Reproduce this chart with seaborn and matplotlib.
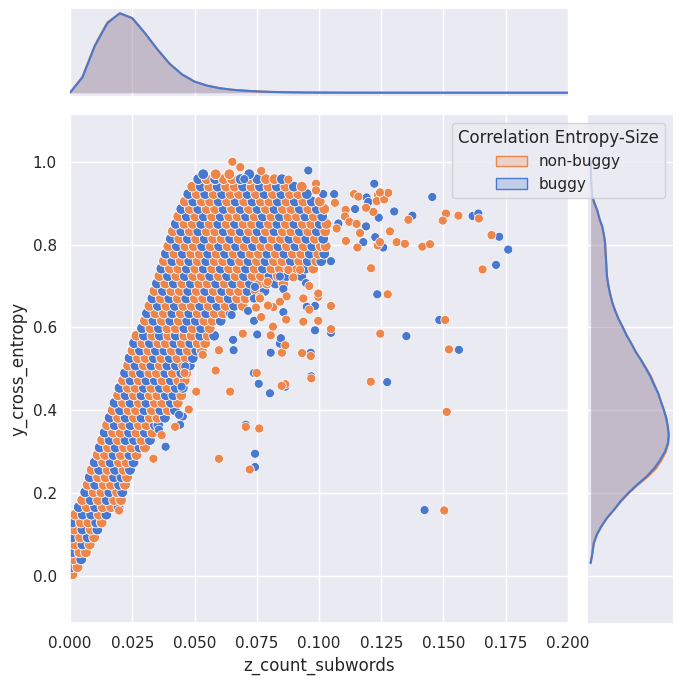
import matplotlib
matplotlib.use("Agg")
import matplotlib.pyplot as plt
from matplotlib.patches import Patch
import numpy as np
import pandas as pd
import seaborn as sns

# ---------------- data ----------------
# dense band, one row of points per y level; hue codes: b = buggy, n = non-buggy
band_y = [0.004, 0.021, 0.040, 0.057, 0.076, 0.093, 0.112, 0.129, 0.148, 0.166,
          0.183, 0.202, 0.220, 0.238, 0.256, 0.274, 0.292, 0.310, 0.328, 0.346,
          0.364, 0.382, 0.400, 0.418, 0.436, 0.454, 0.472, 0.490, 0.508, 0.526,
          0.544, 0.562, 0.580,
          0.598, 0.616, 0.634, 0.652, 0.670, 0.688, 0.706, 0.724, 0.742, 0.760,
          0.778, 0.796, 0.814, 0.832, 0.850, 0.868, 0.886, 0.904, 0.922, 0.940,
          0.958, 0.970]

band_x = [
    [0.0010],
    [0.0007, 0.0030],
    [0.0013, 0.0045],
    [0.0007, 0.0038, 0.0064],
    [0.0019, 0.0050, 0.0079],
    [0.0008, 0.0041, 0.0071, 0.0097],
    [0.0017, 0.0050, 0.0083, 0.0110],
    [0.0009, 0.0043, 0.0074, 0.0105, 0.0127],
    [0.0021, 0.0051, 0.0085, 0.0116, 0.0146],
    [0.0035, 0.0068, 0.0101, 0.0131, 0.0165, 0.0195],
    [0.0049, 0.0083, 0.0113, 0.0147, 0.0177, 0.0205],
    [0.0061, 0.0095, 0.0126, 0.0158, 0.0189, 0.0210],
    [0.0071, 0.0101, 0.0135, 0.0165, 0.0197, 0.0221],
    [0.0079, 0.0113, 0.0143, 0.0177, 0.0207, 0.0229],
    [0.0087, 0.0117, 0.0151, 0.0181, 0.0215, 0.0241],
    [0.0099, 0.0133, 0.0163, 0.0197, 0.0227, 0.0255],
    [0.0111, 0.0141, 0.0175, 0.0205, 0.0239, 0.0267],
    [0.0119, 0.0153, 0.0183, 0.0217, 0.0247, 0.0279, 0.0301],
    [0.0129, 0.0159, 0.0193, 0.0223, 0.0257, 0.0287, 0.0321],
    [0.0139, 0.0173, 0.0203, 0.0237, 0.0267, 0.0301, 0.0331],
    [0.0149, 0.0179, 0.0213, 0.0243, 0.0277, 0.0307, 0.0341, 0.0355],
    [0.0159, 0.0193, 0.0223, 0.0257, 0.0287, 0.0321, 0.0351, 0.0381],
    [0.0171, 0.0201, 0.0235, 0.0265, 0.0299, 0.0329, 0.0363, 0.0393, 0.0421],
    [0.0179, 0.0213, 0.0243, 0.0277, 0.0307, 0.0341, 0.0371, 0.0405, 0.0433],
    [0.0193, 0.0223, 0.0257, 0.0287, 0.0321, 0.0351, 0.0385, 0.0415, 0.0447],
    [0.0199, 0.0233, 0.0263, 0.0297, 0.0327, 0.0361, 0.0391, 0.0425, 0.0453],
    [0.0213, 0.0243, 0.0277, 0.0307, 0.0341, 0.0371, 0.0405, 0.0435, 0.0461],
    [0.0221, 0.0255, 0.0285, 0.0319, 0.0349, 0.0383, 0.0413, 0.0447, 0.0467],
    [0.0233, 0.0263, 0.0297, 0.0327, 0.0361, 0.0391, 0.0425, 0.0455, 0.0481],
    [0.0239, 0.0273, 0.0303, 0.0337, 0.0367, 0.0401, 0.0431, 0.0465, 0.0493],
    [0.0251, 0.0281, 0.0315, 0.0345, 0.0379, 0.0409, 0.0443, 0.0473, 0.0507, 0.0529],
    [0.0257, 0.0291, 0.0321, 0.0355, 0.0385, 0.0419, 0.0449, 0.0483, 0.0513, 0.0543],
    [0.0267, 0.0297, 0.0331, 0.0361, 0.0395, 0.0425, 0.0459, 0.0489, 0.0523, 0.0553, 0.0579],
    [0.0289, 0.0323, 0.0357, 0.0391, 0.0425, 0.0459, 0.0493, 0.0527, 0.0561],
    [0.0301, 0.0335, 0.0369, 0.0403, 0.0437, 0.0471, 0.0505, 0.0539, 0.0573, 0.0605],
    [0.0309, 0.0343, 0.0377, 0.0411, 0.0445, 0.0479, 0.0513, 0.0547, 0.0581, 0.0615, 0.0645],
    [0.0319, 0.0353, 0.0387, 0.0421, 0.0455, 0.0489, 0.0523, 0.0557, 0.0591, 0.0625, 0.0659,
     0.0693],
    [0.0331, 0.0365, 0.0399, 0.0433, 0.0467, 0.0501, 0.0535, 0.0569, 0.0603, 0.0637, 0.0671,
     0.0705, 0.0739],
    [0.0339, 0.0373, 0.0407, 0.0441, 0.0475, 0.0509, 0.0543, 0.0577, 0.0611, 0.0645, 0.0679,
     0.0713, 0.0747, 0.0781],
    [0.0349, 0.0383, 0.0417, 0.0451, 0.0485, 0.0519, 0.0553, 0.0587, 0.0621, 0.0655, 0.0689,
     0.0723, 0.0757, 0.0791, 0.0825, 0.0857],
    [0.0359, 0.0393, 0.0427, 0.0461, 0.0495, 0.0529, 0.0563, 0.0597, 0.0631, 0.0665, 0.0699,
     0.0733, 0.0767, 0.0801, 0.0835, 0.0869, 0.0903, 0.0929],
    [0.0367, 0.0401, 0.0435, 0.0469, 0.0503, 0.0537, 0.0571, 0.0605, 0.0639, 0.0673, 0.0707,
     0.0741, 0.0775, 0.0809, 0.0843, 0.0877, 0.0911, 0.0945, 0.0977],
    [0.0377, 0.0411, 0.0445, 0.0479, 0.0513, 0.0547, 0.0581, 0.0615, 0.0649, 0.0683, 0.0717,
     0.0751, 0.0785, 0.0819, 0.0853, 0.0887, 0.0921, 0.0955, 0.0989, 0.1009],
    [0.0385, 0.0419, 0.0453, 0.0487, 0.0521, 0.0555, 0.0589, 0.0623, 0.0657, 0.0691, 0.0725,
     0.0759, 0.0793, 0.0827, 0.0861, 0.0895, 0.0929, 0.0963, 0.0997, 0.1021],
    [0.0395, 0.0429, 0.0463, 0.0497, 0.0531, 0.0565, 0.0599, 0.0633, 0.0667, 0.0701, 0.0735,
     0.0769, 0.0803, 0.0837, 0.0871, 0.0905, 0.0939, 0.0973, 0.1007, 0.1027],
    [0.0405, 0.0439, 0.0473, 0.0507, 0.0541, 0.0575, 0.0609, 0.0643, 0.0677, 0.0711, 0.0745,
     0.0779, 0.0813, 0.0847, 0.0881, 0.0915, 0.0949, 0.0983, 0.1017],
    [0.0413, 0.0447, 0.0481, 0.0515, 0.0549, 0.0583, 0.0617, 0.0651, 0.0685, 0.0719, 0.0753,
     0.0787, 0.0821, 0.0855, 0.0889, 0.0923, 0.0957, 0.0991, 0.1025],
    [0.0425, 0.0459, 0.0493, 0.0527, 0.0561, 0.0595, 0.0629, 0.0663, 0.0697, 0.0731, 0.0765,
     0.0799, 0.0833, 0.0867, 0.0901, 0.0935, 0.0969, 0.1003, 0.1030],
    [0.0435, 0.0469, 0.0503, 0.0537, 0.0571, 0.0605, 0.0639, 0.0673, 0.0707, 0.0741, 0.0775,
     0.0809, 0.0843, 0.0877, 0.0911, 0.0945, 0.0979, 0.1013],
    [0.0447, 0.0481, 0.0515, 0.0549, 0.0583, 0.0617, 0.0651, 0.0685, 0.0719, 0.0753, 0.0787,
     0.0821, 0.0855, 0.0889, 0.0923, 0.0957, 0.0991, 0.1021],
    [0.0461, 0.0495, 0.0529, 0.0563, 0.0597, 0.0631, 0.0665, 0.0699, 0.0733, 0.0767, 0.0801,
     0.0835, 0.0869, 0.0903, 0.0937, 0.0971, 0.1003],
    [0.0475, 0.0509, 0.0543, 0.0577, 0.0611, 0.0645, 0.0679, 0.0713, 0.0747, 0.0781, 0.0815,
     0.0849, 0.0883, 0.0917, 0.0951],
    [0.0491, 0.0525, 0.0559, 0.0593, 0.0627, 0.0661, 0.0695, 0.0729, 0.0763, 0.0797, 0.0831,
     0.0865, 0.0899, 0.0931],
    [0.0515, 0.0549, 0.0583, 0.0617, 0.0651, 0.0685, 0.0719, 0.0753, 0.0787, 0.0821, 0.0851],
    [0.0535, 0.0585, 0.0640, 0.0720],
]

band_hue = [
    "n", "bn", "nb", "bnn", "nbn", "bnbn", "nbnb", "bnnbn", "nbbnb", "bnbnnb",
    "nbnbnn", "bnnbnb", "nbnnbn", "bnnbbn", "nbnbnb", "bnbnnb", "nnbnbn", "bnbnnbn",
    "nbnbbnb", "bnnbnbn", "nbnbnnbb", "bnbnbnnb", "nbnnbnbnb", "bnbnbnnbn",
    "nbnbnnbbn", "bnnbnbnbb", "nbnbbnbnn", "bnbnnbnbn", "nbnbnbbnb", "bnnbnbnnb",
    "nbnbbnbnbn", "bnbnnbnbnn", "nbnbnbnnbnb",
    "bnbnnbnbn", "nbnbnbbnnb", "bnnbnbnbnnb", "nbnbnnbnbnbn", "bnbnbnnbnbnnb",
    "nbnnbnbnbnnbnb", "bnbnbnnbnbnbnnbn", "nbnbnnbnbnbnnbnbnb", "bnnbnbnbnnbnbnnbnbn",
    "nbnbnbnnbnbnbnnbnbnb", "bnbnnbnbnbnnbnbnnbnb", "nbnnbnbnbnbnnbnbnbnn",
    "bnbnbnnbnbnbnnbnbnb", "nbnbnnbnbnbnbnnbnbn", "bnnbnbnbnnbnbnbnnbn",
    "nbnbnbnnbnbnbnnbnb", "bnbnnbnbnbnbnnbnbn", "nbnnbnbnbnnbnbnbn",
    "bnbnbnnbnbnbnnb", "nbnbnnbnbnbnbn", "bnbnnbnbnnb", "bnnb",
]

# scattered points around the band
buggy_x = [0.0957, 0.1017, 0.1061, 0.1222, 0.1191, 0.1198, 0.1145, 0.1302, 0.1375, 0.1240,
           0.1189, 0.1078, 0.1226, 0.1258, 0.1178, 0.1455, 0.1617, 0.1640, 0.1724, 0.1760,
           0.1711, 0.1048, 0.1234, 0.0984, 0.0948, 0.0857, 0.0843, 0.0739, 0.0743, 0.1483,
           0.1351, 0.1562, 0.1274, 0.1424, 0.0969, 0.0865, 0.0803, 0.0758, 0.0739, 0.0706,
           0.0743, 0.0743, 0.0453, 0.0442, 0.0463, 0.0657, 0.0752, 0.0806, 0.0843, 0.0847,
           0.0857, 0.0951, 0.0984, 0.1048, 0.0967, 0.0649, 0.0739, 0.0715, 0.0700, 0.0384,
           0.0448, 0.0438, 0.0357, 0.0655]
buggy_y = [0.979, 0.922, 0.922, 0.947, 0.914, 0.903, 0.886, 0.880, 0.870, 0.865,
           0.844, 0.851, 0.818, 0.793, 0.806, 0.915, 0.869, 0.875, 0.819, 0.788,
           0.751, 0.760, 0.680, 0.652, 0.707, 0.693, 0.723, 0.670, 0.698, 0.618,
           0.579, 0.546, 0.468, 0.159, 0.482, 0.457, 0.441, 0.464, 0.490, 0.365,
           0.295, 0.263, 0.385, 0.365, 0.506, 0.545, 0.583, 0.539, 0.561, 0.574,
           0.637, 0.650, 0.593, 0.587, 0.539, 0.630, 0.616, 0.640, 0.958, 0.312,
           0.457, 0.389, 0.353, 0.570]

nonbuggy_x = [0.0652, 0.0684, 0.0768, 0.0877, 0.0988, 0.0988, 0.1141, 0.1158, 0.1236, 0.1232,
              0.1262, 0.1278, 0.1245, 0.1359, 0.1285, 0.1218, 0.1189, 0.1107, 0.1104, 0.1122,
              0.1165, 0.1151, 0.1236, 0.1312, 0.1345, 0.1415, 0.1446, 0.1154, 0.1108, 0.1064,
              0.1071, 0.1245, 0.1510, 0.1497, 0.1560, 0.1642, 0.1693, 0.1657, 0.1209, 0.1276,
              0.1048, 0.0997, 0.0937, 0.0961, 0.0870, 0.0897, 0.0924, 0.0817, 0.0763, 0.0794,
              0.0877, 0.0997, 0.1507, 0.1246, 0.1522, 0.1208, 0.1513, 0.1503, 0.0969, 0.0865,
              0.0850, 0.0750, 0.0643, 0.0706, 0.0760, 0.0722, 0.0598, 0.0585, 0.0507, 0.0477,
              0.0460, 0.0598, 0.0533, 0.0694, 0.0806, 0.0851, 0.0865, 0.0868, 0.0795, 0.0843,
              0.0961, 0.0937, 0.0997, 0.1048, 0.0932, 0.0967, 0.0815, 0.0763, 0.0768, 0.0747,
              0.0422, 0.0368, 0.0335, 0.0197]
nonbuggy_y = [1.000, 0.987, 0.978, 0.957, 0.947, 0.931, 0.922, 0.916, 0.919, 0.905,
              0.909, 0.925, 0.926, 0.860, 0.832, 0.879, 0.889, 0.884, 0.868, 0.855,
              0.828, 0.850, 0.798, 0.806, 0.802, 0.795, 0.801, 0.793, 0.809, 0.901,
              0.839, 0.806, 0.875, 0.858, 0.870, 0.863, 0.823, 0.740, 0.743, 0.680,
              0.652, 0.674, 0.670, 0.700, 0.675, 0.721, 0.739, 0.649, 0.674, 0.710,
              0.739, 0.682, 0.618, 0.585, 0.547, 0.469, 0.396, 0.158, 0.477, 0.463,
              0.459, 0.490, 0.445, 0.360, 0.356, 0.257, 0.283, 0.496, 0.445, 0.402,
              0.490, 0.545, 0.534, 0.585, 0.581, 0.539, 0.557, 0.619, 0.653, 0.662,
              0.643, 0.614, 0.616, 0.596, 0.538, 0.531, 0.602, 0.670, 0.625, 0.648,
              0.360, 0.340, 0.283, 0.158]

marg_x_grid = [0.000, 0.005, 0.010, 0.015, 0.020, 0.025, 0.030, 0.035, 0.040, 0.045,
               0.050, 0.055, 0.060, 0.065, 0.070, 0.075, 0.080, 0.085, 0.090, 0.095,
               0.100, 0.110, 0.120, 0.140, 0.170, 0.200]
marg_x_buggy = [0.0, 0.194, 0.59, 0.875, 1.0, 0.94, 0.755, 0.55, 0.365, 0.23,
                0.14, 0.09, 0.058, 0.038, 0.026, 0.017, 0.011, 0.007, 0.005, 0.003,
                0.002, 0.001, 0.0006, 0.0003, 0.0001, 0.0]
marg_x_nonbuggy = [0.0, 0.20, 0.60, 0.885, 1.0, 0.935, 0.75, 0.548, 0.365, 0.23,
                   0.14, 0.09, 0.058, 0.038, 0.026, 0.017, 0.011, 0.007, 0.005, 0.003,
                   0.002, 0.001, 0.0006, 0.0003, 0.0001, 0.0]

marg_y_grid = [0.031, 0.05, 0.079, 0.10, 0.119, 0.14, 0.159, 0.18, 0.20, 0.22,
               0.24, 0.26, 0.28, 0.30, 0.32, 0.34, 0.36, 0.38, 0.40, 0.42,
               0.441, 0.46, 0.481, 0.50, 0.522, 0.54, 0.562, 0.58, 0.602, 0.62,
               0.643, 0.66, 0.683, 0.70, 0.723, 0.74, 0.763, 0.78, 0.804, 0.82,
               0.844, 0.86, 0.884, 0.90, 0.916, 0.94, 0.96, 0.98, 1.00]
marg_y_buggy = [0, 1.5, 3.3, 6.5, 11, 17, 24, 31, 39, 48,
                58, 66, 72, 77, 80, 81, 80, 78.5, 76, 73,
                70, 66, 62, 57.5, 52, 47, 42, 37.5, 33, 29,
                25, 22.5, 20, 18.5, 17, 16.5, 16, 15.5, 15, 14,
                12, 9.5, 6.7, 4, 1.7, 0.9, 0.5, 0.3, 0.2]
marg_y_nonbuggy = [0, 1.5, 3.3, 6.5, 11, 17, 24, 31.5, 39.5, 49,
                   59.5, 68, 73.5, 78, 80.5, 81, 80, 78.5, 76, 73,
                   70, 66.5, 62.8, 58, 52.3, 47, 42, 37.5, 33, 29,
                   25, 22.5, 20, 18.5, 17, 16.5, 16, 15.5, 15, 14,
                   12, 9.5, 6.7, 4, 1.7, 0.9, 0.5, 0.3, 0.2]

x_ticks = [0.000, 0.025, 0.050, 0.075, 0.100, 0.125, 0.150, 0.175, 0.200]
y_ticks = [0.0, 0.2, 0.4, 0.6, 0.8, 1.0]

hue_names = {"b": "buggy", "n": "non-buggy"}

# ---------------- build tables ----------------
band_rows = []
for y, xs, codes in zip(band_y, band_x, band_hue):
    for x, c in zip(xs, codes):
        band_rows.append({"z_count_subwords": x, "y_cross_entropy": y, "label": hue_names[c]})
band_points = pd.DataFrame(band_rows)

loose_rows = []
for x, y in zip(buggy_x, buggy_y):
    loose_rows.append({"z_count_subwords": x, "y_cross_entropy": y, "label": "buggy"})
for x, y in zip(nonbuggy_x, nonbuggy_y):
    loose_rows.append({"z_count_subwords": x, "y_cross_entropy": y, "label": "non-buggy"})
loose_points = pd.DataFrame(loose_rows)

# ---------------- plot ----------------
sns.set_theme(style="darkgrid")
muted = sns.color_palette("muted")
colors = {"non-buggy": muted[1], "buggy": muted[0]}

g = sns.JointGrid(height=7, ratio=5, space=0.2)
fig = g.figure
fig.set_size_inches(6.83, 6.84)
g.ax_joint.set_position([0.1025, 0.0896, 0.7291, 0.7423])
g.ax_marg_x.set_position([0.1025, 0.8586, 0.7291, 0.1278])
g.ax_marg_y.set_position([0.8590, 0.0896, 0.1259, 0.7423])

# the band is heavily overplotted in the original, so its markers are drawn a bit larger
sns.scatterplot(data=band_points, x="z_count_subwords", y="y_cross_entropy",
                hue="label", hue_order=["non-buggy", "buggy"], palette=colors,
                s=60, legend=False, ax=g.ax_joint)
sns.scatterplot(data=loose_points, x="z_count_subwords", y="y_cross_entropy",
                hue="label", hue_order=["non-buggy", "buggy"], palette=colors,
                s=42, legend=False, ax=g.ax_joint)

# marginal densities
for label, xs_h, ys_w in [("non-buggy", marg_x_nonbuggy, marg_y_nonbuggy),
                          ("buggy", marg_x_buggy, marg_y_buggy)]:
    c = colors[label]
    g.ax_marg_x.fill_between(marg_x_grid, xs_h, color=c, alpha=0.25, linewidth=0)
    g.ax_marg_x.plot(marg_x_grid, xs_h, color=c, linewidth=1.5)
    g.ax_marg_y.fill_betweenx(marg_y_grid, ys_w, color=c, alpha=0.25, linewidth=0)
    g.ax_marg_y.plot(ys_w, marg_y_grid, color=c, linewidth=1.5)

g.ax_joint.set_xlim(0, 0.2)
g.ax_joint.set_ylim(-0.113, 1.113)
g.ax_joint.set_xticks(x_ticks)
g.ax_joint.set_yticks(y_ticks)
g.ax_joint.set_xlabel("z_count_subwords")
g.ax_joint.set_ylabel("y_cross_entropy")

handles = [Patch(facecolor=(*colors[k], 0.25), edgecolor=colors[k], linewidth=1)
           for k in ["non-buggy", "buggy"]]
g.ax_marg_y.legend(handles, ["non-buggy", "buggy"], title="Correlation Entropy-Size",
                   loc="upper right")

fig.savefig("out.png", dpi=100)
